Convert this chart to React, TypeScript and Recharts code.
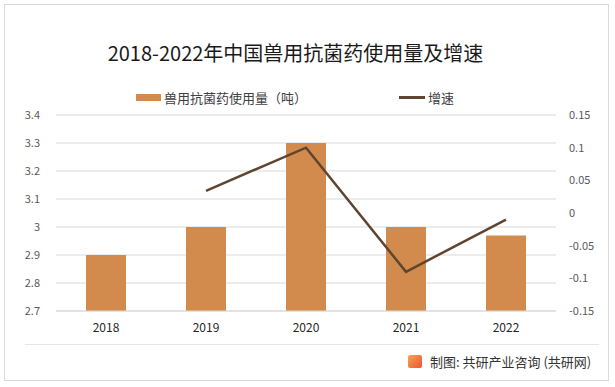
import React from "react";
import {
  ComposedChart,
  Bar,
  Line,
  XAxis,
  YAxis,
  CartesianGrid,
} from "recharts";

const years = ["2018", "2019", "2020", "2021", "2022"];
const usage = [2.9, 3.0, 3.3, 3.0, 2.97];
const growth: (number | null)[] = [null, 0.034, 0.1, -0.09, -0.01];
const leftTicks = [2.7, 2.8, 2.9, 3.0, 3.1, 3.2, 3.3, 3.4];
const rightTicks = [-0.15, -0.1, -0.05, 0, 0.05, 0.1, 0.15];

const BAR_COLOR = "#D38B4D";
const LINE_COLOR = "#5F4530";
const FONT = "'Noto Sans CJK SC', 'Noto Sans', sans-serif";

const data = years.map((year, i) => ({
  year,
  usage: usage[i],
  growth: growth[i],
}));

export default function App() {
  return (
    <div
      style={{
        position: "absolute",
        left: 0,
        top: 0,
        width: 615,
        height: 387,
        background: "#fff",
        fontFamily: FONT,
      }}
    >
      {/* outer frame */}
      <div
        style={{
          position: "absolute",
          left: 4,
          top: 4,
          width: 605,
          height: 377,
          border: "1px solid #d9d9d9",
          boxSizing: "border-box",
        }}
      />
      <div
        style={{
          position: "absolute",
          top: 38,
          left: -12,
          width: 615,
          textAlign: "center",
          fontSize: 20,
          color: "#1a1a1a",
        }}
      >
        2018-2022年中国兽用抗菌药使用量及增速
      </div>

      {/* legend */}
      <div
        style={{
          position: "absolute",
          top: 88,
          left: 136,
          display: "flex",
          alignItems: "center",
          fontSize: 13,
          color: "#404040",
        }}
      >
        <span style={{ width: 25, height: 7, background: BAR_COLOR, marginRight: 3 }} />
        <span>兽用抗菌药使用量（吨）</span>
      </div>
      <div
        style={{
          position: "absolute",
          top: 88,
          left: 399,
          display: "flex",
          alignItems: "center",
          fontSize: 13,
          color: "#404040",
        }}
      >
        <span style={{ width: 26, height: 3, background: LINE_COLOR, marginRight: 3 }} />
        <span>增速</span>
      </div>

      <div style={{ position: "absolute", left: 0, top: 0 }}>
        <ComposedChart
          width={615}
          height={387}
          data={data}
          margin={{ top: 115, right: 0, bottom: 46, left: 0 }}
        >
          <CartesianGrid vertical={false} stroke="#d9d9d9" yAxisId="left" />
          <XAxis
            dataKey="year"
            tickLine={false}
            axisLine={{ stroke: "#d9d9d9" }}
            tick={{ fill: "#262626", fontSize: 12, fontFamily: FONT }}
            height={30}
            tickMargin={6}
          />
          <YAxis
            yAxisId="left"
            domain={[2.7, 3.4]}
            ticks={leftTicks}
            width={56}
            axisLine={false}
            tickLine={false}
            tickMargin={10}
            tickFormatter={(v) => String(Number(v.toFixed(2)))}
            tick={{ fill: "#595959", fontSize: 11, fontFamily: FONT }}
          />
          <YAxis
            yAxisId="right"
            orientation="right"
            domain={[-0.15, 0.15]}
            ticks={rightTicks}
            width={59}
            axisLine={false}
            tickLine={false}
            tickMargin={7}
            tick={{ fill: "#595959", fontSize: 11, fontFamily: FONT }}
          />
          <Bar
            yAxisId="left"
            dataKey="usage"
            fill={BAR_COLOR}
            barSize={40}
            isAnimationActive={false}
          />
          <Line
            yAxisId="right"
            dataKey="growth"
            stroke={LINE_COLOR}
            strokeWidth={2.5}
            dot={false}
            activeDot={false}
            isAnimationActive={false}
          />
        </ComposedChart>
      </div>

      {/* footer */}
      <div
        style={{
          position: "absolute",
          left: 25,
          top: 344,
          width: 574,
          height: 1,
          background: "#e6e6e6",
        }}
      />
      <div
        style={{
          position: "absolute",
          top: 352,
          left: 408,
          display: "flex",
          alignItems: "center",
          fontSize: 13,
          color: "#333",
        }}
      >
        <span
          style={{
            width: 14,
            height: 13,
            borderRadius: 2,
            background: "linear-gradient(135deg, #f7a35c, #f0532b)",
            marginRight: 8,
          }}
        />
        <span>制图: 共研产业咨询 (共研网)</span>
      </div>
    </div>
  );
}
